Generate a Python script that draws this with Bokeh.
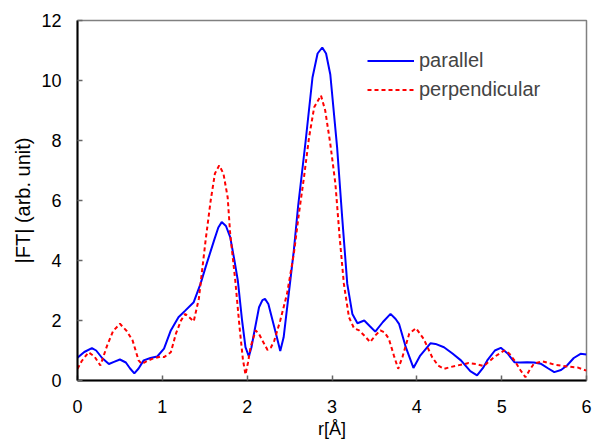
from bokeh.plotting import figure
from bokeh.models import Range1d, FixedTicker, Legend, LegendItem
from bokeh.embed import file_html
from bokeh.resources import INLINE

# parallel
x_par = [0.00, 0.08, 0.17, 0.22, 0.29, 0.37, 0.43, 0.50, 0.57, 0.62, 0.67, 0.72, 0.78, 0.86, 0.94,
         1.02, 1.10, 1.19, 1.27, 1.37, 1.45, 1.51, 1.61, 1.66, 1.70, 1.75, 1.80, 1.85, 1.89, 1.94,
         1.98, 2.02, 2.05, 2.08, 2.14, 2.18, 2.21, 2.25, 2.28, 2.35, 2.39, 2.43, 2.49, 2.55, 2.60,
         2.69, 2.77, 2.83, 2.885, 2.93, 2.98, 3.06, 3.12, 3.18, 3.24, 3.30, 3.38, 3.45, 3.51, 3.60,
         3.69, 3.75, 3.79, 3.87, 3.96, 4.04, 4.16, 4.22, 4.32, 4.42, 4.52, 4.63, 4.71, 4.78, 4.83,
         4.92, 4.99, 5.07, 5.15, 5.22, 5.30, 5.38, 5.46, 5.55, 5.62, 5.70, 5.77, 5.85, 5.93, 6.00]
y_par = [0.76, 0.95, 1.08, 1.00, 0.75, 0.55, 0.62, 0.70, 0.60, 0.40, 0.24, 0.40, 0.67, 0.75, 0.80,
         1.06, 1.67, 2.11, 2.33, 2.61, 3.22, 3.78, 4.67, 5.10, 5.28, 5.15, 4.78, 4.00, 3.33, 2.00,
         1.11, 0.80, 1.10, 1.56, 2.44, 2.68, 2.72, 2.55, 2.22, 1.44, 0.98, 1.44, 2.89, 4.33, 5.80,
         8.00, 10.10, 10.90, 11.10, 10.90, 10.20, 7.78, 5.44, 3.22, 2.22, 1.91, 2.00, 1.80, 1.63, 1.95,
         2.22, 2.05, 1.89, 1.11, 0.42, 0.83, 1.24, 1.22, 1.11, 0.90, 0.67, 0.31, 0.17, 0.42, 0.67,
         1.00, 1.09, 0.90, 0.61, 0.60, 0.61, 0.60, 0.56, 0.40, 0.28, 0.35, 0.50, 0.75, 0.89, 0.87]

# perpendicular
x_per = [0.00, 0.05, 0.13, 0.20, 0.27, 0.35, 0.42, 0.50, 0.58, 0.65, 0.72, 0.76, 0.82, 0.88, 0.98,
         1.02, 1.10, 1.16, 1.22, 1.27, 1.32, 1.37, 1.43, 1.51, 1.57, 1.62, 1.67, 1.72, 1.77, 1.80,
         1.86, 1.91, 1.95, 1.98, 2.01, 2.04, 2.10, 2.14, 2.18, 2.24, 2.28, 2.32, 2.39, 2.47, 2.55,
         2.61, 2.67, 2.73, 2.79, 2.87, 2.92, 2.98, 3.04, 3.09, 3.14, 3.20, 3.26, 3.32, 3.38, 3.45,
         3.51, 3.57, 3.62, 3.67, 3.73, 3.78, 3.83, 3.91, 3.99, 4.08, 4.18, 4.25, 4.32, 4.40, 4.48,
         4.61, 4.70, 4.79, 4.91, 5.03, 5.09, 5.15, 5.22, 5.28, 5.33, 5.38, 5.48, 5.62, 5.77, 5.90, 6.00]
y_per = [0.39, 0.65, 0.94, 0.80, 0.50, 1.17, 1.65, 1.89, 1.65, 1.33, 0.67, 0.55, 0.65, 0.72, 0.80,
         0.78, 0.94, 1.56, 2.00, 2.22, 2.10, 1.97, 2.72, 4.67, 6.00, 6.90, 7.17, 6.90, 6.11, 4.89,
         3.33, 1.78, 0.70, 0.20, 0.60, 1.11, 1.67, 1.55, 1.33, 1.02, 1.10, 1.33, 2.00, 2.89, 4.22,
         5.56, 6.78, 8.11, 9.11, 9.50, 9.00, 7.89, 6.56, 4.78, 3.22, 2.11, 1.74, 1.67, 1.50, 1.28,
         1.50, 1.67, 1.60, 1.39, 0.83, 0.39, 0.78, 1.56, 1.74, 1.39, 0.78, 0.50, 0.39, 0.45, 0.50,
         0.58, 0.55, 0.48, 0.78, 1.00, 0.90, 0.67, 0.35, 0.11, 0.35, 0.56, 0.64, 0.53, 0.47, 0.43, 0.33]

x_ticks = [0, 1, 2, 3, 4, 5, 6]
y_ticks = [0, 2, 4, 6, 8, 10, 12]
series_names = ["parallel", "perpendicular"]

FONT = "Liberation Sans"

p = figure(width=592, height=446, output_backend="svg", toolbar_location=None,
           x_range=Range1d(0, 6), y_range=Range1d(0, 12),
           min_border_left=77, min_border_right=6, min_border_top=20, min_border_bottom=66)
p.background_fill_color = "white"
p.border_fill_color = "white"
p.outline_line_color = "#808080"
p.outline_line_width = 1.5
p.xgrid.visible = False
p.ygrid.visible = False

r1 = p.line(x_par, y_par, line_color="#0000FF", line_width=2)
r2 = p.line(x_per, y_per, line_color="#FF0000", line_width=2, line_dash="4 3")

for ax, ticks in ((p.xaxis[0], x_ticks), (p.yaxis[0], y_ticks)):
    ax.ticker = FixedTicker(ticks=ticks)
    ax.axis_line_color = "black"
    ax.axis_line_width = 2
    ax.major_tick_in = 5
    ax.major_tick_out = 0
    ax.major_tick_line_color = "#666666"
    ax.major_tick_line_width = 1.5
    ax.minor_tick_line_color = None
    ax.major_label_text_font = FONT
    ax.major_label_text_font_size = "18px"
    ax.major_label_text_color = "black"
    ax.axis_label_text_font = FONT
    ax.axis_label_text_font_style = "normal"
    ax.axis_label_text_color = "black"

p.xaxis.axis_label = "r[Å]"
p.yaxis.axis_label = "|FT| (arb. unit)"
p.xaxis.axis_label_text_font_size = "18px"
p.yaxis.axis_label_text_font_size = "20px"
p.xaxis.major_label_standoff = 19
p.yaxis.major_label_standoff = 16
p.xaxis.axis_label_standoff = 3
p.yaxis.axis_label_standoff = 4

legend = Legend(items=[LegendItem(label=series_names[0], renderers=[r1]),
                       LegendItem(label=series_names[1], renderers=[r2])],
                location=(290, 279))
legend.background_fill_alpha = 0
legend.border_line_color = None
legend.label_text_font = FONT
legend.label_text_font_size = "20px"
legend.glyph_width = 47
legend.glyph_height = 23
legend.label_height = 23
legend.label_standoff = 5
legend.spacing = 6
legend.padding = 0
legend.margin = 0
p.add_layout(legend)

open("out.html", "w").write(file_html(p, INLINE))
